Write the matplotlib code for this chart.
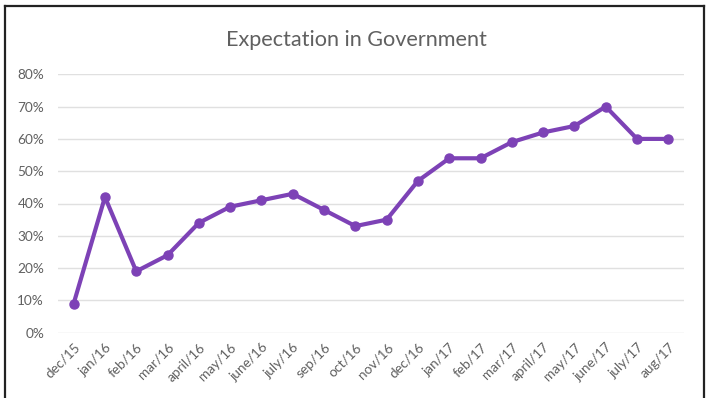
import matplotlib.pyplot as plt
from matplotlib.lines import Line2D
from matplotlib.ticker import PercentFormatter

months = ["dec/15", "jan/16", "feb/16", "mar/16", "april/16", "may/16",
          "june/16", "july/16", "sep/16", "oct/16", "nov/16", "dec/16",
          "jan/17", "feb/17", "mar/17", "april/17", "may/17", "june/17",
          "july/17", "aug/17"]
expectation = [9, 42, 19, 24, 34, 39, 41, 43, 38, 33, 35, 47,
               54, 54, 59, 62, 64, 70, 60, 60]
y_ticks = [0, 10, 20, 30, 40, 50, 60, 70, 80]

plt.rcParams['font.family'] = ['Lato', 'DejaVu Sans']
text_grey = "#606060"

fig = plt.figure(figsize=(7.06, 3.98), dpi=100)
ax = fig.add_axes([58 / 706, 1 - 332.7 / 398, 626 / 706, 258.4 / 398])

x = range(len(months))
ax.plot(x, expectation, color="#7D42B6", linewidth=3, marker="o",
        markersize=6.5, clip_on=False, zorder=3)

ax.set_xlim(-0.5, len(months) - 0.5)
ax.set_ylim(0, 80)
ax.set_yticks(y_ticks)
ax.yaxis.set_major_formatter(PercentFormatter(decimals=0))
ax.set_xticks(list(x))
ax.set_xticklabels(months, rotation=45, ha="right", rotation_mode="anchor")
ax.tick_params(axis="both", length=0, labelsize=9.8, colors=text_grey)
ax.tick_params(axis="y", pad=10)
ax.tick_params(axis="x", pad=6)
ax.grid(axis="y", color="#E0E0E0", linewidth=1)
ax.set_axisbelow(True)
for side in ax.spines.values():
    side.set_visible(False)

fig.text(356 / 706, 1 - 40 / 398, "Expectation in Government",
         ha="center", va="center", fontsize=15.6, color=text_grey)

# dark frame around the chart area (open at the bottom)
frame = dict(color="#222222", linewidth=1.6, transform=fig.transFigure)
fig.add_artist(Line2D([4.5 / 706, 4.5 / 706], [0, 1 - 5.5 / 398], **frame))
fig.add_artist(Line2D([4.5 / 706, 703.5 / 706], [1 - 5.5 / 398, 1 - 5.5 / 398], **frame))
fig.add_artist(Line2D([703.5 / 706, 703.5 / 706], [0, 1 - 5.5 / 398], **frame))

fig.savefig("out.png", dpi=100)
